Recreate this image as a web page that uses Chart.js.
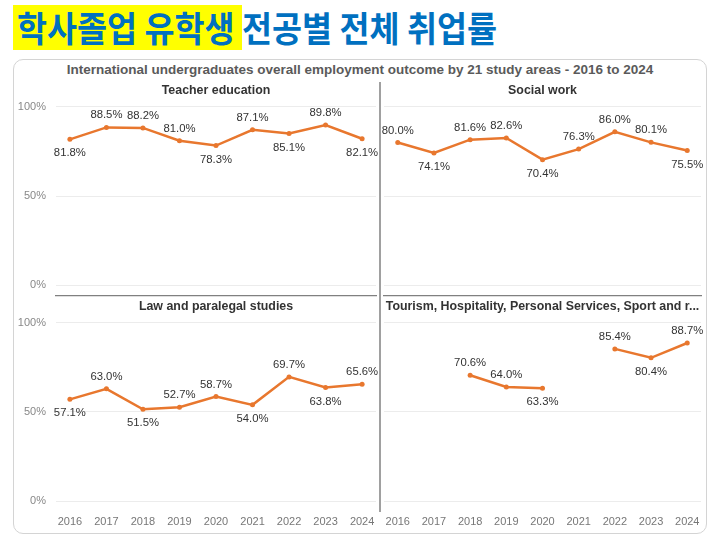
<!DOCTYPE html>
<html>
<head>
<meta charset="utf-8">
<script src="https://cdn.jsdelivr.net/npm/chart.js@4/dist/chart.umd.min.js"></script>
<style>
  body { margin: 0; background: #fff; }
  #wrap { position: relative; width: 720px; height: 540px; overflow: hidden; font-family: "Liberation Sans", Arial, sans-serif; }
  #hl { position: absolute; left: 13px; top: 5px; width: 229px; height: 45px; background: #ffff00; }
  #heading { position: absolute; left: 17px; top: 4px; font-family: "Noto Sans CJK KR", sans-serif; font-weight: 700; font-size: 32px; color: #0070c0; white-space: nowrap; line-height: 46px; transform: scale(1.02, 1.1); transform-origin: left center; }
  #card { position: absolute; left: 13px; top: 59px; width: 692px; height: 473px; border: 1.5px solid #d4d4d4; border-radius: 10px; }
  #title { position: absolute; left: 0; width: 720px; top: 62px; text-align: center; font-weight: 700; font-size: 13.5px; color: #5a5a5a; }
  #divider { position: absolute; left: 379px; top: 82px; width: 1.5px; height: 430px; background: #a0a0a0; }
  canvas { position: absolute; }
</style>
</head>
<body>
<div id="wrap">
  <div id="hl"></div>
  <div id="heading">학사졸업 유학생 전공별 전체 취업률</div>
  <div id="card"></div>
  <div id="title">International undergraduates overall employment outcome by 21 study areas - 2016 to 2024</div>
  <canvas id="c1" width="370" height="220" style="left:10px;top:80px"></canvas>
  <canvas id="c2" width="325" height="220" style="left:380px;top:80px"></canvas>
  <canvas id="c3" width="370" height="234" style="left:10px;top:298px"></canvas>
  <canvas id="c4" width="325" height="234" style="left:380px;top:298px"></canvas>
  <div id="divider"></div>
</div>
<script>
// years on the x axis
const years = ['2016', '2017', '2018', '2019', '2020', '2021', '2022', '2023', '2024'];
const yTicks = [0, 50, 100];

// employment rate (%) per study area
const teacherEducation = [81.8, 88.5, 88.2, 81.0, 78.3, 87.1, 85.1, 89.8, 82.1];
const socialWork = [80.0, 74.1, 81.6, 82.6, 70.4, 76.3, 86.0, 80.1, 75.5];
const lawParalegal = [57.1, 63.0, 51.5, 52.7, 58.7, 54.0, 69.7, 63.8, 65.6];
const tourismSport = [null, null, 70.6, 64.0, 63.3, null, 85.4, 80.4, 88.7];

// where each value label sits (a = above, b = below)
const teacherLabelPos = ['b', 'a', 'a', 'a', 'b', 'a', 'b', 'a', 'b'];
const socialLabelPos = ['a', 'b', 'a', 'a', 'b', 'a', 'a', 'a', 'b'];
const lawLabelPos = ['b', 'a', 'b', 'a', 'a', 'b', 'a', 'b', 'a'];
const tourismLabelPos = ['a', 'a', 'a', 'a', 'b', 'a', 'a', 'b', 'a'];

const ORANGE = '#e8772e';
const FONT = '"Liberation Sans", Arial, sans-serif';

// draws the value labels next to each point
const pointLabels = {
    id: 'pointLabels',
    afterDatasetsDraw(chart, args, opts) {
        const ctx = chart.ctx;
        const ds = chart.data.datasets[0];
        ctx.save();
        ctx.font = '11.3px ' + FONT;
        ctx.fillStyle = '#333';
        ctx.textAlign = 'center';
        ctx.textBaseline = 'middle';
        chart.getDatasetMeta(0).data.forEach((pt, i) => {
            const v = ds.data[i].y;
            if (v === null) return;
            const dy = opts.pos[i] === 'a' ? -12 : 14;
            ctx.fillText(v.toFixed(1) + '%', pt.x, pt.y + dy);
        });
        ctx.restore();
    }
};

// no extra room for labels at the ends of the axes
function noPad(s) {
    s.paddingTop = 0;
    s.paddingBottom = 0;
    s.paddingLeft = 0;
    s.paddingRight = 0;
}

function makePanel(id, title, values, labelPos, opt) {
    const ctx = document.getElementById(id).getContext('2d');
    return new Chart(ctx, {
        type: 'line',
        data: {
            datasets: [{
                data: values.map((v, i) => ({ x: i, y: v })),
                borderColor: ORANGE,
                backgroundColor: ORANGE,
                borderWidth: 2.5,
                pointRadius: 2.5,
                pointBorderWidth: 0,
                spanGaps: false
            }]
        },
        options: {
            responsive: false,
            animation: false,
            devicePixelRatio: 1,
            layout: { padding: { left: 0, right: opt.isLeft ? 2 : 3, top: 0, bottom: 0 } },
            plugins: {
                legend: { display: false },
                tooltip: { enabled: false },
                title: {
                    display: true,
                    text: title,
                    fullSize: false,
                    color: '#333',
                    font: { family: FONT, size: 12.4, weight: 'bold', lineHeight: 1.2 },
                    padding: opt.isTop ? { top: 3, bottom: 9 } : { top: 1, bottom: 9 }
                },
                pointLabels: { pos: labelPos }
            },
            scales: {
                x: {
                    type: 'linear',
                    min: -0.38,
                    max: 8.38,
                    grid: { display: false, drawTicks: false },
                    border: { display: opt.isTop, color: '#808080', width: 1.2 },
                    afterBuildTicks: s => { s.ticks = years.map((y, i) => ({ value: i })); },
                    afterFit: s => { s.height = opt.isTop ? 2 : 22; noPad(s); },
                    ticks: {
                        display: !opt.isTop,
                        autoSkip: false,
                        maxRotation: 0,
                        padding: 5,
                        color: '#777',
                        font: { family: FONT, size: 11 },
                        callback: v => years[v]
                    }
                },
                y: {
                    min: opt.isTop ? -6.1 : -5,
                    max: 100,
                    afterBuildTicks: s => { s.ticks = yTicks.map(v => ({ value: v })); },
                    afterFit: s => { s.width = opt.isLeft ? 46 : 0; noPad(s); },
                    grid: { color: '#ececec', drawTicks: false },
                    border: { display: false },
                    ticks: {
                        display: opt.isLeft,
                        padding: 10,
                        color: '#888',
                        font: { family: FONT, size: 11 },
                        callback: v => v + '%'
                    }
                }
            }
        },
        plugins: [pointLabels]
    });
}

makePanel('c1', 'Teacher education', teacherEducation, teacherLabelPos, { isLeft: true, isTop: true });
makePanel('c2', 'Social work', socialWork, socialLabelPos, { isLeft: false, isTop: true });
makePanel('c3', 'Law and paralegal studies', lawParalegal, lawLabelPos, { isLeft: true, isTop: false });
makePanel('c4', 'Tourism, Hospitality, Personal Services, Sport and r...', tourismSport, tourismLabelPos, { isLeft: false, isTop: false });
</script>
</body>
</html>
